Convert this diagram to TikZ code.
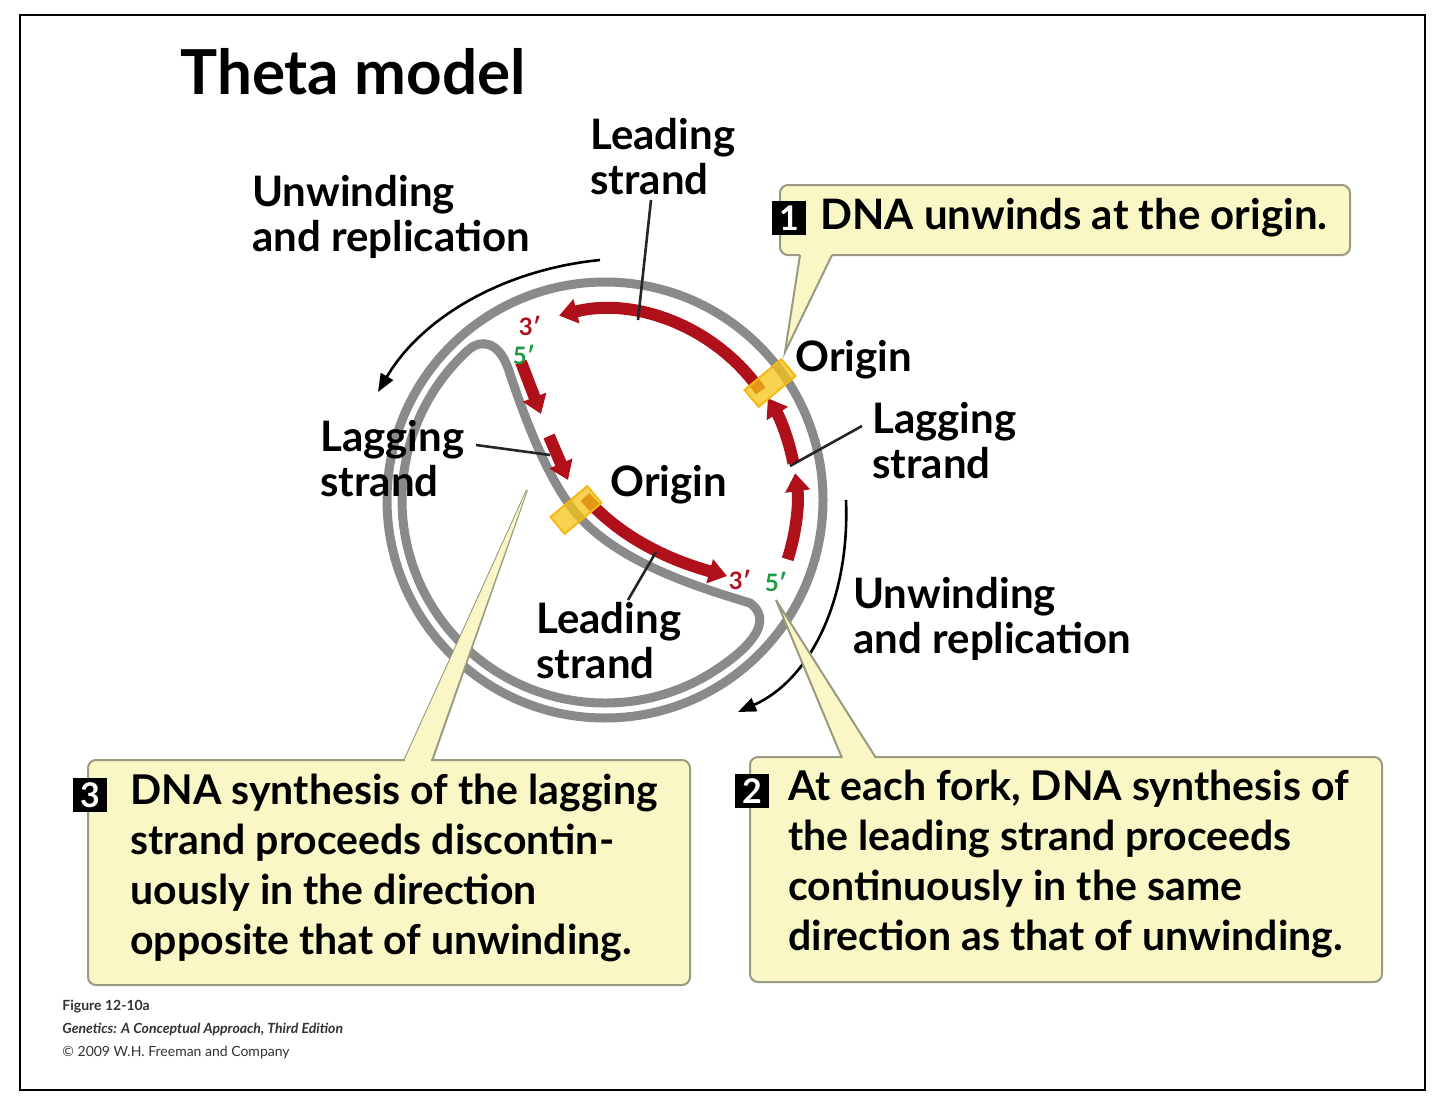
\documentclass[tikz,border=0pt]{standalone}
\usepackage{fontspec}
\setmainfont{Lato}
\usetikzlibrary{arrows.meta,calc}
\definecolor{dnagray}{HTML}{8A8A8A}
\definecolor{dnared}{HTML}{B0101A}
\definecolor{boxfill}{HTML}{FAF7C6}
\definecolor{boxdraw}{HTML}{9A9A80}
\definecolor{primegreen}{HTML}{1E9A40}
\definecolor{orig}{HTML}{F5C518}
\begin{document}
\begin{tikzpicture}[x=0.5pt,y=0.5pt,
  gray strand/.style={draw=dnagray,line width=4.5pt},
  red strand/.style={draw=dnared,line width=6pt,-{Triangle[length=9pt,width=12pt]}},
  lbl/.style={font=\fontsize{21}{22.5}\selectfont\bfseries,align=left,inner sep=0pt},
  boxtxt/.style={font=\fontsize{20.5}{25}\selectfont\bfseries,align=left,inner sep=0pt,anchor=north west},
  callout/.style={fill=boxfill,draw=boxdraw,line width=1pt,rounded corners=4pt},
  badge/.style={fill=black,text=white,font=\fontsize{17}{17}\selectfont\bfseries,minimum size=17pt,inner sep=0pt},
  leader/.style={draw=black!85,line width=1.3pt},
  prime/.style={font=\fontsize{12}{12}\selectfont\bfseries,inner sep=0pt},
  orbox/.style={draw=orig!80!orange,fill=orig,fill opacity=0.75,line width=1pt,minimum width=24pt,minimum height=11pt,inner sep=0pt},
  unw/.style={draw=black,line width=1.3pt,-{Triangle[length=9pt,width=7pt]}}]
\useasboundingbox (0,0) rectangle (1440,-1097);
\fill[white] (0,0) rectangle (1440,-1097);
\draw[black,line width=1.2pt] (20,-15) rectangle (1425,-1090);
\coordinate (C) at (605,-500);
% title
\node[anchor=west,font=\fontsize{31}{31}\selectfont\bfseries,inner sep=0pt] (title) at (180,-72) {Theta model};
% unwinding arrows
\coordinate (u1s) at (600,-260); \coordinate (u1e) at (378,-392);
\draw[unw] (u1s) .. controls (500,-270) and (420,-320) .. (u1e);
\coordinate (u2s) at (846,-500); \coordinate (u2e) at (738,-712);
\draw[unw] (u2s) .. controls (850,-600) and (810,-680) .. (u2e);
% gray strands
\draw[gray strand] (C) circle[radius=218];
\draw[gray strand] ($(C)+(132:203)$) arc[start angle=132,end angle=298,radius=203]
  .. controls (735,-660) and (780,-625) .. (750,-603)
  .. controls (690,-585) and (615,-560) .. (575,-512)
  .. controls (545,-475) and (522,-410) .. (508,-368)
  .. controls (498,-340) and (480,-340) .. ($(C)+(132:203)$);
% red strands
\draw[red strand] ($(C)+(35:190)$) arc[start angle=35,end angle=104,radius=190];
\draw[red strand] ($(C)+(-18:192)$) arc[start angle=-18,end angle=8,radius=192];
\draw[red strand] ($(C)+(11:192)$) arc[start angle=11,end angle=32,radius=192];
\draw[red strand] (585,-497) .. controls (625,-543) and (680,-563) .. (727,-576);
\draw[red strand] (521,-362) -- (541,-414);
\draw[red strand] (549,-436) -- (568,-480);
% origins
\node[orbox,rotate=40] (o1) at (770,-383) {};
\node[orbox,rotate=40] (o2) at (576,-510) {};
% primes
\node[prime,text=dnared] (p3a) at (530,-326) {3′};
\node[prime,text=primegreen] (p5a) at (524,-355) {5′};
\node[prime,text=dnared] (p3b) at (740,-580) {3′};
\node[prime,text=primegreen] (p5b) at (776,-582) {5′};
% labels
\node[lbl,anchor=north west] (lead1) at (590,-118) {Leading\\strand};
\node[lbl,anchor=north west] (unw1) at (252,-175) {Unwinding\\and replication};
\node[lbl,anchor=west] (orig1) at (795,-360) {Origin};
\node[lbl,anchor=north west] (lag2) at (872,-402) {Lagging\\strand};
\node[lbl,anchor=north west] (lag1) at (320,-420) {Lagging\\strand};
\node[lbl,anchor=west] (orig2) at (610,-485) {Origin};
\node[lbl,anchor=north west] (lead2) at (536,-602) {Leading\\strand};
\node[lbl,anchor=north west] (unw2) at (853,-577) {Unwinding\\and replication};
% leaders
\coordinate (l1a) at (651,-200); \coordinate (l1b) at (638,-320);
\draw[leader] (l1a) -- (l1b);
\coordinate (l2a) at (476,-445); \coordinate (l2b) at (550,-455);
\draw[leader] (l2a) -- (l2b);
\coordinate (l3a) at (862,-426); \coordinate (l3b) at (790,-466);
\draw[leader] (l3a) -- (l3b);
\coordinate (l4a) at (628,-600); \coordinate (l4b) at (656,-552);
\draw[leader] (l4a) -- (l4b);
% callout 1
\draw[callout] (780,-185) rectangle (1350,-255);
\coordinate (t1) at (785,-352);
\fill[boxfill] (800,-254) -- (t1) -- (832,-254) -- cycle;
\draw[boxdraw,line width=1pt] (800,-255) -- (t1) -- (832,-255);
\node[badge] (b1) at (789,-218) {1};
\node[lbl,anchor=west] (c1) at (820,-218) {DNA unwinds at the origin.};
% callout 3
\coordinate (t3) at (527,-490);
\fill[boxfill] (404,-761) -- (t3) -- (432,-761) -- cycle;
\draw[boxdraw,line width=1pt] (404,-761) -- (t3) -- (432,-761);
\draw[callout] (88,-760) rectangle (690,-985);
\fill[boxfill] (405,-762) -- (431,-762) -- (431,-758) -- (405,-758) -- cycle;
\fill[boxfill] (405,-759) -- (t3) -- (431,-759) -- cycle;
\node[badge] (b3) at (90,-795) {3};
\node[boxtxt] (c3) at (130,-774) {DNA synthesis of the lagging\\strand proceeds discontin-\\uously in the direction\\opposite that of unwinding.};
% callout 2
\coordinate (t2) at (776,-600);
\draw[callout] (750,-757) rectangle (1382,-982);
\fill[boxfill] (842,-759) -- (t2) -- (876,-759) -- cycle;
\draw[boxdraw,line width=1pt] (842,-758) -- (t2) -- (876,-758);
\node[badge] (b2) at (752,-791) {2};
\node[boxtxt] (c2) at (788,-770) {At each fork, DNA synthesis of\\the leading strand proceeds\\continuously in the same\\direction as that of unwinding.};
% caption
\node[anchor=north west,align=left,inner sep=0pt,font=\fontsize{7}{11.5}\selectfont,text=black!80] (cap) at (62,-1000)
 {\textbf{Figure 12-10a}\\\textbf{\itshape Genetics: A Conceptual Approach, Third Edition}\\© 2009 W.H. Freeman and Company};
\end{tikzpicture}
\end{document}
